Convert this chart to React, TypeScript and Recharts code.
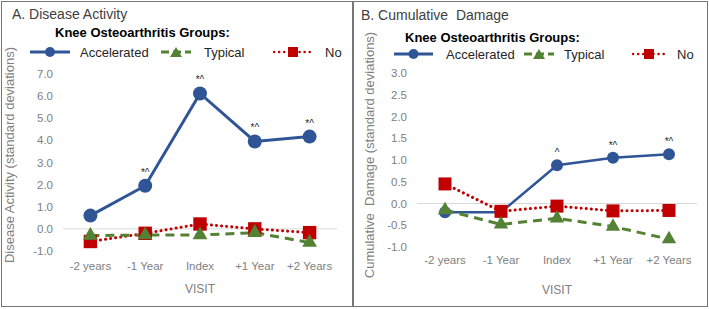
import {
  LabelList,
  Line,
  LineChart,
  ReferenceLine,
  Symbols,
  XAxis,
  YAxis,
} from "recharts";

// Two panels, Excel-style: knee OA groups over visits.
const BLUE = "#2f5597";
const GREEN = "#548235";
const RED = "#c00000";
const AXIS_TEXT = "#808080";
const FONT = '"Liberation Sans", Arial, sans-serif';

const categories = ["-2 years", "-1 Year", "Index", "+1 Year", "+2 Years"];

// A. Disease Activity
const activityAccelerated = [0.6, 1.95, 6.12, 3.95, 4.17];
const activityTypical = [-0.3, -0.28, -0.28, -0.17, -0.62];
const activityNo = [-0.57, -0.2, 0.22, 0.0, -0.17];
const activityNotes = ["", "*^", "*^", "*^", "*^"];
const activityTicks = [-1, 0, 1, 2, 3, 4, 5, 6, 7];

// B. Cumulative Damage
const damageAccelerated = [-0.2, -0.2, 0.88, 1.05, 1.13];
const damageTypical = [-0.15, -0.48, -0.34, -0.53, -0.82];
const damageNo = [0.45, -0.18, -0.06, -0.17, -0.16];
const damageNotes = ["", "", "^", "*^", "*^"];
const damageTicks = [-1, -0.5, 0, 0.5, 1, 1.5, 2, 2.5, 3];

const buildRows = (acc: number[], typ: number[], no: number[], notes: string[]) =>
  categories.map((c, i) => ({
    visit: c,
    accelerated: acc[i],
    typical: typ[i],
    no: no[i],
    note: notes[i],
  }));

const activityRows = buildRows(activityAccelerated, activityTypical, activityNo, activityNotes);
const damageRows = buildRows(damageAccelerated, damageTypical, damageNo, damageNotes);

type PanelProps = {
  rows: ReturnType<typeof buildRows>;
  ticks: number[];
  left: number;
  width: number;
  top: number;
  right: number;
  yAxisWidth: number;
  xAxisHeight: number;
  xTickMargin: number;
  dotR: number;
  squareSize: number;
  triangleSize: number;
  lineW: number;
};

function Panel(p: PanelProps) {
  const plotW = p.width - p.yAxisWidth - p.right;
  const pad = plotW / categories.length / 2;
  const tick = { fontSize: 11.5, fill: AXIS_TEXT, fontFamily: FONT };
  return (
    <div style={{ position: "absolute", left: p.left, top: 0 }}>
      <LineChart
        width={p.width}
        height={309}
        data={p.rows}
        margin={{ top: p.top, right: p.right, bottom: 0, left: 0 }}
      >
        <XAxis
          dataKey="visit"
          axisLine={false}
          tickLine={false}
          tickMargin={p.xTickMargin}
          interval={0}
          height={p.xAxisHeight}
          padding={{ left: pad, right: pad }}
          tick={tick}
        />
        <YAxis
          domain={[p.ticks[0], p.ticks[p.ticks.length - 1]]}
          ticks={p.ticks}
          interval={0}
          axisLine={false}
          tickLine={false}
          tickMargin={4}
          width={p.yAxisWidth}
          tick={tick}
          tickFormatter={(v: number) => v.toFixed(1)}
        />
        <ReferenceLine y={0} stroke="#d9d9d9" strokeWidth={1} />
        <Line
          dataKey="accelerated"
          stroke={BLUE}
          strokeWidth={p.lineW}
          dot={{ r: p.dotR, fill: BLUE, stroke: BLUE, strokeWidth: 0 }}
          isAnimationActive={false}
        >
          <LabelList
            dataKey="note"
            position="top"
            offset={p.dotR + 3}
            fontSize={10}
            fill="#262626"
          />
        </Line>
        <Line
          dataKey="no"
          stroke={RED}
          strokeWidth={3}
          strokeDasharray="0.1 5"
          strokeLinecap="round"
          dot={(d: any) => (
            <Symbols
              key={`sq-${d.index}`}
              cx={d.cx}
              cy={d.cy}
              type="square"
              size={p.squareSize}
              fill={RED}
            />
          )}
          isAnimationActive={false}
        />
        <Line
          dataKey="typical"
          stroke={GREEN}
          strokeWidth={3}
          strokeDasharray="9 6"
          dot={(d: any) => (
            <Symbols
              key={`tr-${d.index}`}
              cx={d.cx}
              cy={d.cy}
              type="triangle"
              size={p.triangleSize}
              fill={GREEN}
            />
          )}
          isAnimationActive={false}
        />
      </LineChart>
    </div>
  );
}

function Icon({ kind, w }: { kind: "acc" | "typ" | "no"; w: number }) {
  const c = kind === "acc" ? BLUE : kind === "typ" ? GREEN : RED;
  const m = w / 2;
  return (
    <svg width={w} height={14} style={{ display: "block" }}>
      {kind === "acc" && <line x1={0} y1={7} x2={w} y2={7} stroke={c} strokeWidth={3} />}
      {kind === "typ" && (
        <line x1={0} y1={7} x2={w} y2={7} stroke={c} strokeWidth={3} strokeDasharray="8 4" />
      )}
      {kind === "no" && (
        <line
          x1={1}
          y1={7}
          x2={w}
          y2={7}
          stroke={c}
          strokeWidth={2.5}
          strokeDasharray="0.1 5"
          strokeLinecap="round"
        />
      )}
      {kind === "acc" && <circle cx={m} cy={7} r={5} fill={c} />}
      {kind === "typ" && <path d={`M${m},2 L${m + 6},12 L${m - 6},12 Z`} fill={c} />}
      {kind === "no" && <rect x={m - 5} y={2} width={10} height={10} fill={c} />}
    </svg>
  );
}

const abs = (x: number, y: number): React.CSSProperties => ({
  position: "absolute",
  left: x,
  top: y,
  transform: "translateY(-50%)",
  whiteSpace: "pre",
  lineHeight: 1,
});

function Legend({ y, titleX, titleY, items }: {
  y: number;
  titleX: number;
  titleY: number;
  items: { kind: "acc" | "typ" | "no"; x: number; w: number; tx: number; label: string }[];
}) {
  return (
    <>
      <div style={{ ...abs(titleX, titleY), fontSize: 13, fontWeight: "bold", color: "#000" }}>
        Knee Osteoarthritis Groups:
      </div>
      {items.map((it) => (
        <div key={it.label}>
          <div style={{ ...abs(it.x, y) }}>
            <Icon kind={it.kind} w={it.w} />
          </div>
          <div style={{ ...abs(it.tx, y), fontSize: 13, color: "#262626" }}>{it.label}</div>
        </div>
      ))}
    </>
  );
}

const yLabel = (x: number, y: number): React.CSSProperties => ({
  position: "absolute",
  left: x,
  top: y,
  transform: "translate(-50%, -50%) rotate(-90deg)",
  whiteSpace: "pre",
  fontSize: 13,
  color: AXIS_TEXT,
  lineHeight: 1,
});

export default function App() {
  return (
    <div
      style={{
        position: "absolute",
        left: 0,
        top: 0,
        width: 709,
        height: 309,
        background: "#fff",
        fontFamily: FONT,
        overflow: "hidden",
      }}
    >
      <div
        style={{
          position: "absolute",
          left: 1,
          top: 1,
          width: 352,
          height: 306,
          boxSizing: "border-box",
          border: "1px solid #767676",
        }}
      />
      <div
        style={{
          position: "absolute",
          left: 353,
          top: 1,
          width: 355,
          height: 306,
          boxSizing: "border-box",
          border: "1px solid #767676",
        }}
      />

      <Panel
        rows={activityRows}
        ticks={activityTicks}
        left={0}
        width={352}
        top={74}
        right={15}
        yAxisWidth={63}
        xAxisHeight={58}
        xTickMargin={5}
        dotR={7}
        squareSize={180}
        triangleSize={95}
        lineW={3}
      />
      <Panel
        rows={damageRows}
        ticks={damageTicks}
        left={353}
        width={355}
        top={73}
        right={11}
        yAxisWidth={64}
        xAxisHeight={62}
        xTickMargin={3}
        dotR={6}
        squareSize={169}
        triangleSize={90}
        lineW={2.5}
      />

      <div style={{ ...abs(12, 14), fontSize: 14, color: "#404040" }}>A. Disease Activity</div>
      <div style={{ ...abs(361, 15), fontSize: 14, color: "#404040" }}>B. Cumulative  Damage</div>

      <Legend
        y={52}
        titleX={55}
        titleY={32}
        items={[
          { kind: "acc", x: 30, w: 40, tx: 80, label: "Accelerated" },
          { kind: "typ", x: 161, w: 30, tx: 204, label: "Typical" },
          { kind: "no", x: 273, w: 40, tx: 325, label: "No" },
        ]}
      />
      <Legend
        y={54}
        titleX={405}
        titleY={37}
        items={[
          { kind: "acc", x: 394, w: 39, tx: 446, label: "Accelerated" },
          { kind: "typ", x: 524, w: 30, tx: 564, label: "Typical" },
          { kind: "no", x: 632, w: 34, tx: 677, label: "No" },
        ]}
      />

      <div style={yLabel(9, 155)}>Disease Activity (standard deviations)</div>
      <div style={yLabel(369, 155)}>Cumulative  Damage (standard deviations)</div>

      <div style={{ ...abs(200, 289), transform: "translate(-50%, -50%)", fontSize: 12, color: AXIS_TEXT }}>
        VISIT
      </div>
      <div style={{ ...abs(557, 290), transform: "translate(-50%, -50%)", fontSize: 12, color: AXIS_TEXT }}>
        VISIT
      </div>
    </div>
  );
}
